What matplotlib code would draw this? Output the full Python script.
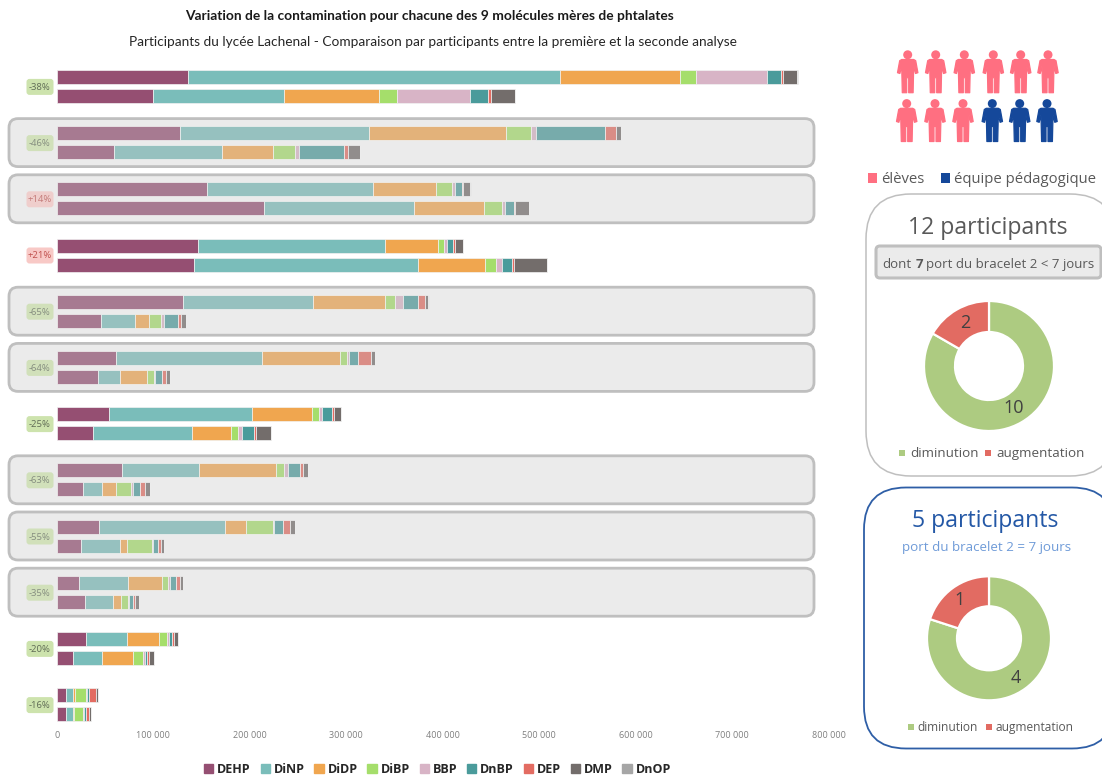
import matplotlib
matplotlib.use("Agg")
import matplotlib.pyplot as plt
import numpy as np
from matplotlib.colors import to_rgb
from matplotlib.patches import FancyBboxPatch, Circle, Polygon, Rectangle
from matplotlib.ticker import FuncFormatter, MultipleLocator

plt.rcParams['font.family'] = ['Open Sans', 'DejaVu Sans']

W, H = 1102, 776

molecules = ["DEHP", "DiNP", "DiDP", "DiBP", "BBP", "DnBP", "DEP", "DMP", "DnOP"]
colors = ["#954F72", "#7ABDBA", "#F0A64F", "#A5DE6B", "#D8B4C6", "#4A9B9B", "#E36C62", "#736D6B", "#A6A6A6"]

# two consecutive values per participant: first analysis, second analysis (thousands)
DEHP = [135.8,99.6,127.6,59.4,155.6,214.7,145.9,142.1,130.7,45.3,61.2,42.8,54.2,37.0,67.1,26.7,43.9,25.2,23.1,28.7,29.8,16.3,9.6,9.6]
DiNP = [386.1,136.2,196.3,111.7,172.1,155.6,193.9,232.6,135.1,35.6,151.1,22.8,148.3,102.7,80.2,20.3,130.7,40.4,50.8,29.0,42.5,30.7,6.6,6.6]
DiDP = [124.1,98.2,141.4,52.9,65.3,72.6,55.6,69.5,74.7,14.8,81.5,28.0,62.2,41.1,79.5,14.5,21.8,6.6,34.6,8.9,33.8,32.1,2.7,1.7]
DiBP = [16.3,19.0,26.5,23.1,16.9,19.0,5.9,11.4,10.4,12.4,7.3,6.6,6.6,7.3,8.9,14.9,27.4,26.2,6.8,6.6,8.3,10.4,10.8,9.3]
BBP = [74.3,75.7,4.6,3.5,2.5,2.8,3.4,5.6,7.7,2.8,1.8,1.0,3.1,3.5,3.5,2.4,1.3,1.3,1.5,1.7,1.5,1.5,1.0,1.0]
DnBP = [14.5,18.7,71.9,47.3,7.9,9.6,6.2,10.7,15.9,14.2,9.0,7.9,11.0,13.1,12.4,6.9,9.6,5.2,6.8,4.1,3.1,2.4,2.1,1.5]
DEP = [2.1,2.8,11.1,3.5,0.5,0.7,1.8,2.1,7.6,3.7,14.1,3.5,1.5,1.5,3.4,5.8,6.6,2.5,4.1,2.1,2.7,2.1,7.6,3.4]
DMP = [14.5,24.6,5.5,12.8,7.8,14.5,8.3,33.9,3.1,5.2,3.8,4.5,7.6,15.6,4.9,5.2,5.8,3.7,2.8,4.1,3.8,5.2,1.8,1.8]
DnOP = [0.3,0.2,0.3,0.2,0.2,0.2,0.2,0.2,0.3,0.2,0.3,0.2,0.2,0.2,0.2,0.2,0.2,0.2,0.2,0.2,0.2,0.2,0.2,0.2]
series = [DEHP, DiNP, DiDP, DiBP, BBP, DnBP, DEP, DMP, DnOP]

changes = ["-38%", "-46%", "+14%", "+21%", "-65%", "-64%", "-25%", "-63%", "-55%", "-35%", "-20%", "-16%"]
highlighted = [1, 2, 4, 5, 7, 8, 9]

donut1_values = [10, 2]
donut2_values = [4, 1]
donut_colors = ["#ADCB81", "#E26B62"]

ROW0, ROWSTEP = 86.4, 56.2
TOP, BOTTOM, LEFT, RIGHT = 58, 728, 57, 828.5

def washed(c, a=0.65, g=0.79):
    return tuple(a * v + (1 - a) * g for v in to_rgb(c))

fig = plt.figure(figsize=(W / 100, H / 100), dpi=100, facecolor="white")

# decoration layer in pixel coordinates
bg = fig.add_axes([0, 0, 1, 1], zorder=1)
bg.set_xlim(0, W); bg.set_ylim(H, 0); bg.axis("off")

# main chart
ax = fig.add_axes([LEFT / W, 1 - BOTTOM / H, (RIGHT - LEFT) / W, (BOTTOM - TOP) / H], zorder=2)
ax.patch.set_visible(False)
ax.set_xlim(0, 800000)
ax.set_ylim((BOTTOM - ROW0) / ROWSTEP, (TOP - ROW0) / ROWSTEP)
left = np.zeros(24)
offs = 9.5 / ROWSTEP
ypos = np.array([i + s * offs for i in range(12) for s in (-1, 1)])
for name, vals, col in zip(molecules, series, colors):
    v = np.array(vals) * 1000
    for k in range(24):
        fc = washed(col) if k // 2 in highlighted else col
        ax.barh(ypos[k], v[k], left=left[k], height=14 / ROWSTEP, color=fc,
                edgecolor="#f2f2f2", linewidth=0.5)
    left += v
ax.xaxis.set_major_locator(MultipleLocator(100000))
ax.xaxis.set_major_formatter(FuncFormatter(lambda x, _: f"{int(x):,}".replace(",", " ")))
ax.tick_params(axis="x", length=0, labelsize=6.5, labelcolor="#7f7f7f", pad=2)
ax.set_yticks([])
for s in ax.spines.values():
    s.set_visible(False)

handles = [Rectangle((0, 0), 1, 1, color=c) for c in colors]
fig.legend(handles, molecules, ncol=9, loc="center", bbox_to_anchor=(437.5 / W, 1 - 769.5 / H), frameon=False,
           prop={"size": 9, "weight": "bold"}, labelcolor="#262626", handlelength=0.75, handleheight=0.75,
           handletextpad=0.3, columnspacing=0.78, borderpad=0, borderaxespad=0)

# titles
bg.text(429.5, 16.5, "Variation de la contamination pour chacune des 9 molécules mères de phtalates",
        ha="center", va="center", fontsize=9.9, fontweight="bold", color="#1a1a1a", family="Lato")
bg.text(432.5, 42.5, "Participants du lycée Lachenal - Comparaison par participants entre la première et la seconde analyse",
        ha="center", va="center", fontsize=9.8, color="#262626", family="Lato")

# highlighted rows and badges
for i in highlighted:
    y = ROW0 + i * ROWSTEP
    bg.add_patch(FancyBboxPatch((17, y - 16), 789, 32, boxstyle="round,pad=8,rounding_size=9",
                                fc="#ebebeb", ec="#bfbfbf", lw=2.0))
for i, lab in enumerate(changes):
    y = ROW0 + i * ROWSTEP + 0.5
    up = lab.startswith("+")
    fade = i in highlighted
    fc = "#F8C9C6" if up else "#CDE3AD"
    tc = "#C0504D" if up else "#5f6b55"
    if fade:
        fc, tc = washed(fc, 0.7, 0.85), washed(tc, 0.65, 0.8)
    bg.add_patch(FancyBboxPatch((28, y - 6.5), 24, 13, boxstyle="round,pad=1.5,rounding_size=3",
                                fc=fc, ec="none"))
    bg.text(39.5, y + 0.5, lab, ha="center", va="center", fontsize=6.8, color=tc)

# people pictogram
people_x1 = [907.7, 935.7, 964.3, 993.3, 1020.7, 1048]
people_x2 = [906.7, 935, 963, 992.3, 1019.7, 1047]
people_colors2 = ["#FF6F81"] * 3 + ["#15489A"] * 3
body = np.array([(-6, 8.8), (6, 8.8), (8, 10), (10.2, 22), (7.8, 22.8), (6, 15.5), (5.4, 42), (1, 42), (1, 27),
                 (-1, 27), (-1, 42), (-5.4, 42), (-6, 15.5), (-7.8, 22.8), (-10.2, 22), (-8, 10)])
def person(x, ytop, c):
    bg.add_patch(Circle((x, ytop + 4.1), 4.5, fc=c, ec="none"))
    bg.add_patch(Polygon(body + [x, ytop], closed=True, fc=c, ec=c, lw=0.9, joinstyle="round"))
for x in people_x1:
    person(x, 50.7, "#FF6F81")
for x, c in zip(people_x2, people_colors2):
    person(x, 99.5, c)

bg.add_patch(Rectangle((868.3, 173), 9, 9.5, fc="#FF6F81", ec="none"))
bg.text(881, 183, "élèves", va="baseline", fontsize=10.7, color="#595959")
bg.add_patch(Rectangle((941, 173), 9, 9.5, fc="#15489A", ec="none"))
bg.text(954, 183, "équipe pédagogique", va="baseline", fontsize=10.7, color="#595959")

# panel 1
bg.add_patch(FancyBboxPatch((866 + 45, 194 + 45), 159, 192, boxstyle="round,pad=45,rounding_size=45",
                            fc="white", ec="#bfbfbf", lw=1.1))
bg.text(988, 227.5, "12 participants", ha="center", va="center", fontsize=16.6, color="#595959")
bg.add_patch(FancyBboxPatch((880, 250), 217, 24, boxstyle="round,pad=4,rounding_size=4",
                            fc="#ebebeb", ec="#bfbfbf", lw=2.2))
bg.text(882.7, 268, "dont", va="baseline", fontsize=9.5, color="#595959")
bg.text(915.5, 268, "7", va="baseline", fontsize=9.5, fontweight="bold", color="#595959")
bg.text(926.3, 268, "port du bracelet 2 < 7 jours", va="baseline", fontsize=9.5, color="#595959")

# panel 2
bg.add_patch(FancyBboxPatch((864 + 42, 487.5 + 42), 166, 177, boxstyle="round,pad=42,rounding_size=42",
                            fc="white", ec="#2E5EA6", lw=1.3))
bg.text(985.5, 521, "5 participants", ha="center", va="center", fontsize=16.6, color="#2458A6")
bg.text(987, 547, "port du bracelet 2 = 7 jours", ha="center", va="center", fontsize=9.6, color="#6F9BD8")

def donut(cx, cy, r, rin, vals):
    pa = fig.add_axes([(cx - r) / W, 1 - (cy + r) / H, 2 * r / W, 2 * r / H], zorder=3)
    pa.pie(vals, colors=donut_colors, startangle=90, counterclock=False, radius=1,
           wedgeprops={"width": 1 - rin / r, "edgecolor": "white", "linewidth": 1.6})
    pa.set_xlim(-1, 1); pa.set_ylim(-1, 1)
    pa.patch.set_visible(False)

donut(989, 366, 65, 34, donut1_values)
donut(989, 638.3, 62, 32, donut2_values)

def dlabel(x, y, val):
    fig.text(x / W, 1 - y / H, str(val), ha="center", va="center", fontsize=13, color="#404040", zorder=5)

dlabel(1014, 408, donut1_values[0])
dlabel(965, 323, donut1_values[1])
dlabel(1016, 678, donut2_values[0])
dlabel(960, 600, donut2_values[1])

def dlegend(x1, x2, y, s, fs, gap, base):
    bg.add_patch(Rectangle((x1, y - s / 2), s, s, fc=donut_colors[0], ec="none"))
    bg.text(x1 + s + gap, base, "diminution", va="baseline", fontsize=fs, color="#595959")
    bg.add_patch(Rectangle((x2, y - s / 2), s, s, fc=donut_colors[1], ec="none"))
    bg.text(x2 + s + gap, base, "augmentation", va="baseline", fontsize=fs, color="#595959")

dlegend(899, 985, 453, 6, 9.7, 5.5, 457)
dlegend(908, 986, 727, 5.5, 8.6, 3.5, 731)

fig.savefig("out.png", dpi=100)
